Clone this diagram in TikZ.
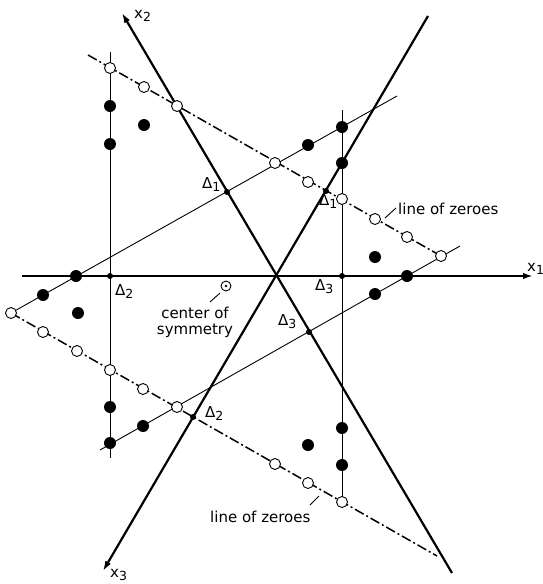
\documentclass[tikz,border=0pt]{standalone}
\usepackage{fontspec}
\setmainfont{DejaVu Sans}
\usetikzlibrary{arrows.meta}
\newcommand\lowsub[1]{\raisebox{-0.45ex}{\fontsize{12.5}{13}\selectfont #1}}
\tikzset{
  axis/.style={
    draw,
    line width=2.2pt,
    -{Latex[length=10pt,width=6.5pt]}
  },
  thinline/.style={draw, line width=0.9pt},
  zeroline/.style={
    draw,
    line width=1.5pt,
    dash pattern=on 10pt off 3pt on 2pt off 3pt
  },
  fulldot/.style={circle, fill, inner sep=0pt, minimum size=12pt},
  zerodot/.style={
    circle,
    draw,
    line width=0.9pt,
    fill=white,
    inner sep=0pt,
    minimum size=11pt
  },
  deltadot/.style={circle, fill, inner sep=0pt, minimum size=6pt},
  lbl/.style={inner sep=0pt, anchor=base west, font=\fontsize{15}{16}\selectfont},
  axislbl/.style={lbl, font=\fontsize{15}{16}\selectfont}
}

\begin{document}
\begin{tikzpicture}[x=1pt,y=-1pt]
  \useasboundingbox (0,0) rectangle (543,584);

  % axes
  \coordinate (xonestart) at (22,276);
  \coordinate (xonetip) at (533,276);
  \coordinate (xtwostart) at (452,573);
  \coordinate (xtwotip) at (122,13);
  \coordinate (xthreestart) at (428,16);
  \coordinate (xthreetip) at (103,571);

  % thin lines and lines of zeroes
  \coordinate (lefttop) at (110,52);
  \coordinate (leftbot) at (110,458);
  \coordinate (righttop) at (342,110);
  \coordinate (rightbot) at (342,502);
  \coordinate (upstart) at (11,313);
  \coordinate (upend) at (397,96);
  \coordinate (lowstart) at (100,450);
  \coordinate (lowend) at (460,246);
  \coordinate (zeroupstart) at (88,55);
  \coordinate (zeroupend) at (441,256);
  \coordinate (zerolowend) at (437,556);

  \path (lefttop) edge[thinline] (leftbot)
        (righttop) edge[thinline] (rightbot)
        (upstart) edge[thinline] (upend)
        (lowstart) edge[thinline] (lowend)
        (zeroupstart) edge[zeroline] (zeroupend)
        (upstart) edge[zeroline] (zerolowend);

  \path (xonestart) edge[axis] (xonetip)
        (xtwostart) edge[axis] (xtwotip)
        (xthreestart) edge[axis] (xthreetip);

  % lattice points
  \foreach \p [count=\n] in {(110,106),(110,144),(144,125),(342,127),(308,145),
      (342,163),(375,257),(407,276),(375,294),(76,276),(43,295),(78,313),
      (110,407),(110,443),(143,426),(308,445),(342,428),(342,465)}
    \node[fulldot] (full\n) at \p {};
  \foreach \p [count=\n] in {(110,68),(144,87),(177,106),(275,163),(308,182),
      (342,199),(375,219),(407,237),(441,256),(11,313),(43,332),(77,351),
      (110,370),(143,389),(177,407),(275,464),(308,483),(342,502)}
    \node[zerodot] (zero\n) at \p {};

  % intersections
  \node[deltadot] (donea) at (227,192) {};
  \node[deltadot] (doneb) at (326,191) {};
  \node[deltadot] (dtwoa) at (110,276) {};
  \node[deltadot] (dtwob) at (193,417) {};
  \node[deltadot] (dthreea) at (342,276) {};
  \node[deltadot] (dthreeb) at (309,332) {};

  \node[lbl] (ldonea) at (202,188) {Δ\lowsub{1}};
  \node[lbl] (ldoneb) at (319,205) {Δ\lowsub{1}};
  \node[lbl] (ldtwoa) at (115,295) {Δ\lowsub{2}};
  \node[lbl] (ldtwob) at (205,417) {Δ\lowsub{2}};
  \node[lbl] (ldthreea) at (315,290) {Δ\lowsub{3}};
  \node[lbl] (ldthreeb) at (278,325) {Δ\lowsub{3}};

  \node[axislbl] (lxone) at (527,271) {x\lowsub{1}};
  \node[axislbl] (lxtwo) at (134,18) {x\lowsub{2}};
  \node[axislbl] (lxthree) at (110,577) {x\lowsub{3}};

  % center of symmetry
  \node[circle, draw, line width=0.9pt, inner sep=0pt, minimum size=10pt] (sym) at (226,286) {};
  \node[circle, fill, inner sep=0pt, minimum size=2.6pt] at (sym) {};
  \node[lbl, anchor=north, align=center] (symtext) at (195,307)
    {center of\\symmetry};
  \coordinate (symleadlo) at (210,302);
  \coordinate (symleadhi) at (220,293);
  \path (symleadlo) edge[thinline] (symleadhi);

  % lines of zeroes
  \node[lbl] (zeroupper) at (398,214) {line of zeroes};
  \node[lbl] (zerolower) at (210,522) {line of zeroes};
  \coordinate (zupleadlo) at (385,218);
  \coordinate (zupleadhi) at (396,208);
  \coordinate (zlowleadlo) at (310,505);
  \coordinate (zlowleadhi) at (319,496);
  \path (zupleadlo) edge[thinline] (zupleadhi)
        (zlowleadlo) edge[thinline] (zlowleadhi);
\end{tikzpicture}
\end{document}
